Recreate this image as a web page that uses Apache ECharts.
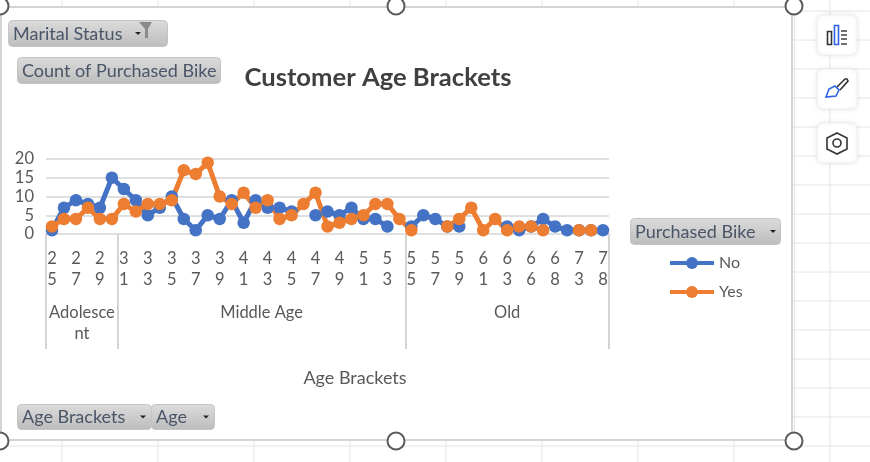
<!DOCTYPE html>
<html>
<head>
<meta charset="utf-8">
<style>html,body{margin:0;padding:0;background:#fff}#c{width:870px;height:462px}</style>
<script src="https://cdn.jsdelivr.net/npm/echarts@6/dist/echarts.min.js"></script>
</head>
<body>
<div id="c"></div>
<script>
const ages = ['25','26','27','28','29','30','31','32','33','34','35','36','37','38','39','40','41','42','43','44','45','46','47','48','49','50','51','52','53','54','55','56','57','58','59','60','61','62','63','64','66','67','68','69','73','74','78'];
const noValues = [1,7,9,8,7,15,12,9,5,7,10,4,1,5,4,9,3,9,7,7,6,null,5,6,5,7,4,4,2,null,2,5,4,2,2,null,null,null,2,1,2,4,2,1,1,1,1];
const yesValues = [2,4,4,7,4,4,8,6,8,8,9,17,16,19,10,8,11,7,9,4,5,8,11,2,3,4,5,8,8,4,1,null,null,2,4,7,1,4,1,2,2,1,null,null,1,1,null];
const groupNames = ['Adolesce\nnt','Middle Age','Old'];
const groupCentres = [3,18,38.5];
const groupEdges = [0,6,30,47];
const title = 'Customer Age Brackets';
const axisTitle = 'Age Brackets';

const FONT = 'Lato';
const TXT = '#595959';
const BTN_TXT = '#4a5568';
const GRID = '#dfdfdf';

const graphic = [];
// spreadsheet gridlines
const sheet = '#e4e4e4';
for (let x = 62; x < 870; x += 96) graphic.push({type:'line',z:-10,silent:true,shape:{x1:x,y1:0,x2:x,y2:462},style:{stroke:sheet,lineWidth:1}});
for (let y = 11; y < 462; y += 29) graphic.push({type:'line',z:-10,silent:true,shape:{x1:0,y1:y,x2:870,y2:y},style:{stroke:sheet,lineWidth:1}});
// chart frame
graphic.push({type:'rect',z:-9,silent:true,shape:{x:1,y:7,width:791,height:433},style:{fill:'#fff',stroke:'#d4d4d4',lineWidth:2}});
graphic.push({type:'line',z:-9,silent:true,shape:{x1:794.5,y1:7,x2:794.5,y2:441},style:{stroke:'#e0e0e0',lineWidth:1}});
// handles
[[396,6],[794,6],[0,6],[0,441],[396,441],[794,441]].forEach(p=>{
  graphic.push({type:'circle',z:-8,silent:true,shape:{cx:p[0],cy:p[1],r:8.5},style:{fill:'#fff',stroke:'#5a5a5a',lineWidth:2}});
});
// field buttons
function button(x,y,w,h,label,arrow){
  graphic.push({type:'rect',z:-7,silent:true,shape:{x:x+.5,y:y+.5,width:w,height:h,r:4},
    style:{fill:{type:'linear',x:0,y:0,x2:0,y2:1,colorStops:[{offset:0,color:'#dcdcdc'},{offset:1,color:'#bcbcbc'}]},stroke:'#c4c4c4',lineWidth:1}});
  graphic.push({type:'text',z:-6,silent:true,style:{x:x+5,y:y+h/2+1,text:label,fill:BTN_TXT,font:'18px '+FONT,textVerticalAlign:'middle'}});
  if(arrow!=null) graphic.push({type:'polygon',z:-6,silent:true,shape:{points:[[arrow-3,y+h/2-1],[arrow+3,y+h/2-1],[arrow,y+h/2+2]]},style:{fill:'#222'}});
}
button(8,20,159,26,'Marital Status',138);
graphic.push({type:'polygon',z:-6,silent:true,shape:{points:[[139,22],[152,22],[148,29],[148,38],[145,38],[145,29]]},style:{fill:'#8a8a8a'}});
button(17,57,203,26,'Count of Purchased Bike',null);
button(630,218,150,26,'Purchased Bike',773);
button(17,404,134,25,'Age Brackets',143);
button(151,404,63,25,'Age',206);
// side toolbar
[15,69,123].forEach(y=>{
  graphic.push({type:'rect',z:-7,silent:true,shape:{x:817,y:y,width:40,height:40,r:6},style:{fill:'#fff',stroke:'#f0f0f0',lineWidth:1,shadowBlur:4,shadowColor:'rgba(0,0,0,0.10)'}});
});
graphic.push({type:'rect',z:-6,silent:true,shape:{x:827.5,y:31.5,width:4,height:13},style:{fill:'none',stroke:'#333',lineWidth:1.6}});
graphic.push({type:'rect',z:-6,silent:true,shape:{x:834.5,y:25.5,width:4,height:19},style:{fill:'none',stroke:'#2f62e8',lineWidth:1.6}});
[31,35,39,44].forEach(y=>graphic.push({type:'line',z:-6,silent:true,shape:{x1:841,y1:y,x2:847,y2:y},style:{stroke:'#333',lineWidth:1.4}}));
graphic.push({type:'polyline',z:-6,silent:true,shape:{points:[[837,87],[845,79],[847,79],[848,81],[840,90]]},style:{fill:'none',stroke:'#333',lineWidth:1.6}});
graphic.push({type:'polygon',z:-6,silent:true,shape:{points:[[835,86],[839,90],[836,96],[826,97],[829,89]]},style:{fill:'none',stroke:'#2f62e8',lineWidth:1.6}});
graphic.push({type:'polygon',z:-6,silent:true,shape:{points:[[837,133],[847,138],[847,149],[837,154],[827,149],[827,138]]},style:{fill:'none',stroke:'#333',lineWidth:1.6}});
graphic.push({type:'circle',z:-6,silent:true,shape:{cx:837,cy:143,r:4},style:{fill:'none',stroke:'#333',lineWidth:1.6}});

function lineSeries(name,data,color){
  return {name,type:'line',data,connectNulls:false,xAxisIndex:0,yAxisIndex:0,
    symbol:'circle',symbolSize:12.5,showAllSymbol:true,
    lineStyle:{color,width:5},itemStyle:{color},emphasis:{disabled:true}};
}

const chart = echarts.init(document.getElementById('c'),null,{renderer:'canvas'});
chart.setOption({
  animation:false,
  backgroundColor:'transparent',
  textStyle:{fontFamily:FONT},
  title:[
    {text:title,left:373,top:60,textAlign:'center',textStyle:{fontFamily:FONT,fontSize:25.6,fontWeight:'bold',color:'#404040'}},
    {text:axisTitle,left:350,top:364,textAlign:'center',textStyle:{fontFamily:FONT,fontSize:18,fontWeight:'normal',color:TXT}}
  ],
  legend:{show:true,left:663,top:250,orient:'vertical',itemWidth:44,itemHeight:15,itemGap:13,
    lineStyle:{width:4},
    textStyle:{fontFamily:FONT,fontSize:16,color:TXT},data:['No','Yes']},
  grid:{left:46,right:261,top:159,height:75,containLabel:false},
  xAxis:[
    {type:'category',data:ages,boundaryGap:true,position:'bottom',
      axisLine:{show:true,lineStyle:{color:GRID,width:2}},axisTick:{show:false},
      axisLabel:{interval:1,margin:14,color:TXT,fontSize:16.5,fontFamily:FONT,lineHeight:21,
        formatter:v=>String(v).split('').join('\n')}},
    {type:'value',min:0,max:47,position:'bottom',splitLine:{show:false},
      axisLine:{show:false},
      axisTick:{show:true,length:115,customValues:groupEdges,lineStyle:{color:'#d4d4d4',width:2}},
      axisLabel:{show:true,margin:68,color:TXT,fontSize:16.5,fontFamily:FONT,lineHeight:21,
        customValues:groupCentres,
        formatter:v=>groupNames[groupCentres.indexOf(v)]}}
  ],
  yAxis:{type:'value',min:0,max:20,interval:5,
    axisLine:{show:false},axisTick:{show:false},
    splitLine:{show:true,lineStyle:{color:GRID,width:2}},
    axisLabel:{margin:12,color:TXT,fontSize:16.5,fontFamily:FONT}},
  series:[lineSeries('No',noValues,'#4472C4'),lineSeries('Yes',yesValues,'#ED7D31')],
  graphic
});
</script>
</body>
</html>
